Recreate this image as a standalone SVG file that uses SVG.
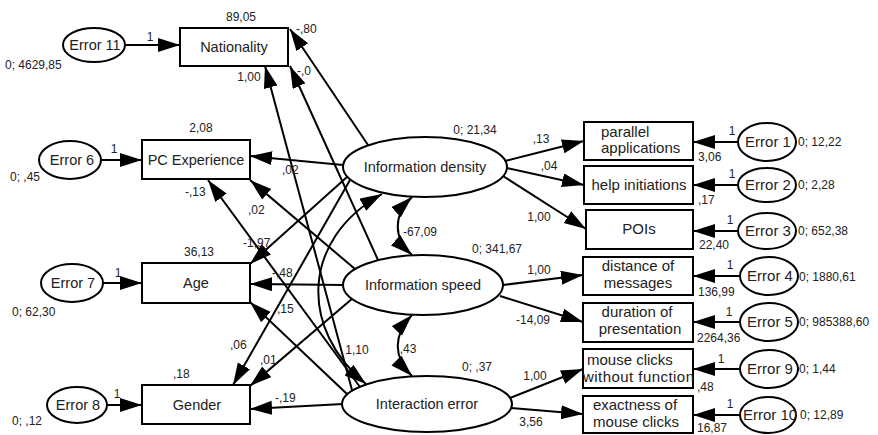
<svg xmlns="http://www.w3.org/2000/svg" width="878" height="435" viewBox="0 0 878 435">
  <defs>
    <marker id="ah" markerUnits="userSpaceOnUse" markerWidth="24" markerHeight="16" refX="22" refY="7" orient="auto-start-reverse" viewBox="0 0 24 16">
      <path d="M0,0 L22,7 L0,14 z" fill="#000"/>
    </marker>
  </defs>
  <style>
    .box { fill: #fff; stroke: #000; stroke-width: 2; }
    .ell { fill: #fff; stroke: #000; stroke-width: 2; }
    .lbl { font-family: "Liberation Sans", Arial, sans-serif; font-size: 14.5px; fill: #222; }
    .rl { font-family: "Liberation Sans", Arial, sans-serif; font-size: 15px; fill: #222; }
    .num { font-family: "Liberation Sans", Arial, sans-serif; font-size: 12px; fill: #222; }
    .mid { text-anchor: middle; }
    .arr { fill: none; stroke: #000; stroke-width: 2; marker-end: url(#ah); }
    .cov { fill: none; stroke: #000; stroke-width: 2; marker-start: url(#ah); marker-end: url(#ah); }
  </style>
  <rect width="878" height="435" fill="#fff"/>

  <!-- connectors -->
  <g id="connectors">
    <!-- error terms into observed variables (left) -->
    <line class="arr" x1="125" y1="45" x2="180" y2="45"/>
    <line class="arr" x1="101" y1="160" x2="142" y2="160"/>
    <line class="arr" x1="103" y1="283" x2="142" y2="283"/>
    <line class="arr" x1="107" y1="405" x2="142" y2="405"/>
    <!-- latent factors to demographic variables -->
    <line class="arr" x1="368" y1="145" x2="290" y2="29"/>
    <line class="arr" x1="378" y1="260" x2="290" y2="66"/>
    <line class="arr" x1="352" y1="390" x2="265" y2="66"/>
    <line class="arr" x1="343" y1="165" x2="250" y2="156"/>
    <line class="arr" x1="355" y1="269" x2="250" y2="180"/>
    <line class="arr" x1="360" y1="387" x2="208" y2="180"/>
    <line class="arr" x1="347" y1="177" x2="250" y2="264"/>
    <line class="arr" x1="343" y1="285" x2="250" y2="284"/>
    <line class="arr" x1="347" y1="394" x2="250" y2="302"/>
    <line class="arr" x1="350" y1="180" x2="233" y2="385"/>
    <line class="arr" x1="353" y1="298" x2="250" y2="386"/>
    <line class="arr" x1="343" y1="404" x2="250" y2="409"/>
    <!-- covariances between latent factors -->
    <path class="cov" d="M412,197 C393,215 393,238 412,255"/>
    <path class="cov" d="M412,315 C393,335 393,357 412,376"/>
    <path class="cov" d="M366,384 C300,330 300,240 382,194"/>
    <!-- latent factors to indicators (right) -->
    <line class="arr" x1="505" y1="161" x2="584" y2="141"/>
    <line class="arr" x1="507" y1="168" x2="584" y2="185"/>
    <line class="arr" x1="503" y1="176" x2="586" y2="229"/>
    <line class="arr" x1="503" y1="285" x2="583" y2="275"/>
    <line class="arr" x1="500" y1="296" x2="583" y2="322"/>
    <line class="arr" x1="510" y1="398" x2="583" y2="369"/>
    <line class="arr" x1="511" y1="408" x2="583" y2="414"/>
    <!-- error terms into indicators (right) -->
    <line class="arr" x1="738" y1="142" x2="693" y2="142"/>
    <line class="arr" x1="738" y1="185" x2="693" y2="185"/>
    <line class="arr" x1="738" y1="231" x2="693" y2="231"/>
    <line class="arr" x1="740" y1="276" x2="693" y2="276"/>
    <line class="arr" x1="740" y1="322" x2="693" y2="322"/>
    <line class="arr" x1="740" y1="369" x2="693" y2="369"/>
    <line class="arr" x1="740" y1="415" x2="693" y2="415"/>
  </g>

  <!-- path and covariance estimates -->
  <g id="estimates" class="num">
    <text x="150" y="41" class="mid">1</text>
    <text x="114" y="153" class="mid">1</text>
    <text x="118" y="277" class="mid">1</text>
    <text x="117" y="398" class="mid">1</text>
    <text x="296" y="33">-,80</text>
    <text x="249" y="81" class="mid">1,00</text>
    <text x="297" y="75">-,0</text>
    <text x="282" y="174">,02</text>
    <text x="185" y="196">-,13</text>
    <text x="248" y="214">,02</text>
    <text x="243" y="247">-1,97</text>
    <text x="272" y="277">-,48</text>
    <text x="277" y="313">,15</text>
    <text x="230" y="349">,06</text>
    <text x="260" y="364">,01</text>
    <text x="275" y="402">-,19</text>
    <text x="420" y="236" class="mid">-67,09</text>
    <text x="408" y="353" class="mid">,43</text>
    <text x="357" y="354" class="mid">1,10</text>
    <text x="541" y="143" class="mid">,13</text>
    <text x="549" y="170" class="mid">,04</text>
    <text x="539" y="221" class="mid">1,00</text>
    <text x="539" y="274" class="mid">1,00</text>
    <text x="533" y="324" class="mid">-14,09</text>
    <text x="535" y="380" class="mid">1,00</text>
    <text x="531" y="426" class="mid">3,56</text>
    <text x="732" y="135" class="mid">1</text>
    <text x="732" y="178" class="mid">1</text>
    <text x="730" y="224" class="mid">1</text>
    <text x="730" y="269" class="mid">1</text>
    <text x="729" y="316" class="mid">1</text>
    <text x="721" y="363" class="mid">1</text>
    <text x="730" y="408" class="mid">1</text>
  </g>

  <!-- demographic variables -->
  <g id="nationality">
    <rect class="box" x="180" y="28" width="108" height="38"/>
    <text class="lbl mid" x="234" y="52">Nationality</text>
    <text class="num mid" x="241" y="21">89,05</text>
  </g>
  <g id="pc-experience">
    <rect class="box" x="142" y="140" width="108" height="39"/>
    <text class="lbl mid" x="196" y="165">PC Experience</text>
    <text class="num mid" x="201" y="132">2,08</text>
  </g>
  <g id="age">
    <rect class="box" x="142" y="263" width="108" height="40"/>
    <text class="lbl mid" x="196" y="288">Age</text>
    <text class="num mid" x="199" y="256">36,13</text>
  </g>
  <g id="gender">
    <rect class="box" x="142" y="385" width="108" height="39"/>
    <text class="lbl mid" x="197" y="410">Gender</text>
    <text class="num" x="173" y="378">,18</text>
  </g>

  <!-- left error terms -->
  <g id="error11">
    <ellipse class="ell" cx="94" cy="45" rx="31" ry="17"/>
    <text class="lbl mid" x="95" y="50">Error 11</text>
    <text class="num" x="5" y="69">0; 4629,85</text>
  </g>
  <g id="error6">
    <ellipse class="ell" cx="70" cy="160" rx="31" ry="19"/>
    <text class="lbl mid" x="72" y="165">Error 6</text>
    <text class="num" x="10" y="181">0; ,45</text>
  </g>
  <g id="error7">
    <ellipse class="ell" cx="72" cy="283" rx="31" ry="19"/>
    <text class="lbl mid" x="73" y="288">Error 7</text>
    <text class="num" x="12" y="316">0; 62,30</text>
  </g>
  <g id="error8">
    <ellipse class="ell" cx="77" cy="405" rx="30" ry="18"/>
    <text class="lbl mid" x="78" y="410">Error 8</text>
    <text class="num" x="12" y="425">0; ,12</text>
  </g>

  <!-- latent factors -->
  <g id="information-density">
    <ellipse class="ell" cx="425" cy="167" rx="82" ry="30"/>
    <text class="lbl mid" x="425" y="172">Information density</text>
    <text class="num mid" x="475" y="134">0; 21,34</text>
  </g>
  <g id="information-speed">
    <ellipse class="ell" cx="423" cy="285" rx="80" ry="30"/>
    <text class="lbl mid" x="423" y="290">Information speed</text>
    <text class="num mid" x="497" y="253">0; 341,67</text>
  </g>
  <g id="interaction-error">
    <ellipse class="ell" cx="427" cy="404" rx="85" ry="28"/>
    <text class="lbl mid" x="427" y="409">Interaction error</text>
    <text class="num mid" x="477" y="371">0; ,37</text>
  </g>

  <!-- indicators -->
  <g id="parallel-applications">
    <rect class="box" x="584" y="122" width="109" height="38"/>
    <text class="rl" x="601" y="137">parallel</text>
    <text class="rl" x="601" y="153">applications</text>
    <text class="num" x="698" y="161">3,06</text>
  </g>
  <g id="help-initiations">
    <rect class="box" x="584" y="166" width="109" height="38"/>
    <text class="rl mid" x="639" y="190">help initiations</text>
    <text class="num" x="698" y="204">,17</text>
  </g>
  <g id="pois">
    <rect class="box" x="586" y="210" width="107" height="39"/>
    <text class="rl mid" x="639" y="234">POIs</text>
    <text class="num" x="699" y="249">22,40</text>
  </g>
  <g id="distance-of-messages">
    <rect class="box" x="583" y="257" width="110" height="38"/>
    <text class="rl mid" x="638" y="271">distance of</text>
    <text class="rl mid" x="638" y="288">messages</text>
    <text class="num" x="698" y="296">136,99</text>
  </g>
  <g id="duration-of-presentation">
    <rect class="box" x="583" y="303" width="110" height="39"/>
    <text class="rl mid" x="637" y="317">duration of</text>
    <text class="rl mid" x="640" y="334">presentation</text>
    <text class="num" x="697" y="342">2264,36</text>
  </g>
  <g id="mouse-clicks-without-function">
    <rect class="box" x="583" y="349" width="110" height="39"/>
    <text class="rl" x="587" y="365">mouse clicks</text>
    <text class="rl" x="583" y="382" textLength="111">without function</text>
    <text class="num" x="697" y="391">,48</text>
  </g>
  <g id="exactness-of-mouse-clicks">
    <rect class="box" x="583" y="396" width="110" height="37"/>
    <text class="rl mid" x="635" y="410">exactness of</text>
    <text class="rl mid" x="636" y="427">mouse clicks</text>
    <text class="num" x="697" y="432">16,87</text>
  </g>

  <!-- right error terms -->
  <g id="error1">
    <ellipse class="ell" cx="767" cy="142" rx="29" ry="19"/>
    <text class="rl mid" x="768" y="147">Error 1</text>
    <text class="num" x="798" y="146">0; 12,22</text>
  </g>
  <g id="error2">
    <ellipse class="ell" cx="767" cy="185" rx="29" ry="17"/>
    <text class="rl mid" x="768" y="190">Error 2</text>
    <text class="num" x="798" y="189">0; 2,28</text>
  </g>
  <g id="error3">
    <ellipse class="ell" cx="767" cy="231" rx="29" ry="18"/>
    <text class="rl mid" x="768" y="236">Error 3</text>
    <text class="num" x="798" y="235">0; 652,38</text>
  </g>
  <g id="error4">
    <ellipse class="ell" cx="769" cy="276" rx="29" ry="19"/>
    <text class="rl mid" x="770" y="281">Error 4</text>
    <text class="num" x="799" y="281">0; 1880,61</text>
  </g>
  <g id="error5">
    <ellipse class="ell" cx="769" cy="322" rx="29" ry="19"/>
    <text class="rl mid" x="770" y="327">Error 5</text>
    <text class="num" x="799" y="326">0; 985388,60</text>
  </g>
  <g id="error9">
    <ellipse class="ell" cx="769" cy="369" rx="29" ry="19"/>
    <text class="rl mid" x="770" y="374">Error 9</text>
    <text class="num" x="799" y="373">0; 1,44</text>
  </g>
  <g id="error10">
    <ellipse class="ell" cx="768" cy="415" rx="28" ry="18"/>
    <text class="rl mid" x="770" y="420">Error 10</text>
    <text class="num" x="800" y="419">0; 12,89</text>
  </g>
</svg>
